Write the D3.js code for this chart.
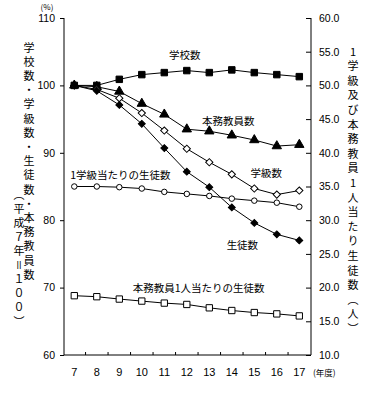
<!DOCTYPE html>
<html>
<head>
<meta charset="utf-8">
<script src="https://cdn.jsdelivr.net/npm/d3@7"></script>
<style>
  body { margin: 0; background: #fff; }
  svg text { font-family: "Noto Sans CJK JP", sans-serif; fill: #000; }
  .tick text { font-family: "Liberation Sans", Arial, sans-serif; font-size: 10.5px; }
</style>
</head>
<body>
<script>
// data (平成7年度 = 100 for the left axis)
const years = [7, 8, 9, 10, 11, 12, 13, 14, 15, 16, 17];
const schools = [100, 100, 100.9, 101.6, 101.9, 102.2, 101.9, 102.3, 101.9, 101.6, 101.3];
const teachers = [100, 99.8, 99.1, 97.3, 95.7, 93.5, 93.2, 92.6, 91.9, 91.0, 91.2];
const classes = [100, 99.4, 98.1, 95.9, 93.3, 90.6, 88.6, 86.8, 84.7, 83.8, 84.4];
const students = [100, 99.2, 97.1, 94.3, 90.7, 87.2, 84.9, 81.9, 79.6, 77.9, 77.0];
// right axis (人)
const perClass = [35.0, 35.0, 34.9, 34.7, 34.2, 33.9, 33.6, 33.2, 32.9, 32.6, 32.0];
const perTeacher = [18.8, 18.65, 18.3, 18.0, 17.7, 17.5, 17.0, 16.6, 16.3, 16.1, 15.8];

const leftTicks = [60, 70, 80, 90, 100, 110];
const rightTicks = [10, 15, 20, 25, 30, 35, 40, 45, 50, 55, 60];

const width = 376;
const height = 398;

const svg = d3.select('body')
  .append('svg')
  .attr('width', width)
  .attr('height', height);

const xLin = d3.scaleLinear().domain([7, 17]).range([74.3, 299.3]);
const yL = d3.scaleLinear().domain([60, 110]).range([355, 18]);
const yR = d3.scaleLinear().domain([10, 60]).range([355, 18]);
const axisLeftX = 64;
const axisRightX = 311;

// axes
svg.append('g')
  .attr('transform', `translate(${axisLeftX},0)`)
  .call(d3.axisLeft(yL).tickValues(leftTicks).tickSize(4).tickPadding(5).tickFormat(d3.format('d')))
  .call(g => g.select('.domain').attr('d', `M0,${yL(110)}V${yL(60)}`));

svg.append('g')
  .attr('transform', `translate(${axisRightX},0)`)
  .call(d3.axisRight(yR).tickValues(rightTicks).tickSize(-5).tickPadding(8).tickFormat(d3.format('.1f')))
  .call(g => g.select('.domain').attr('d', `M0,${yR(60)}V${yR(10)}`));

const xAxis = svg.append('g')
  .attr('transform', `translate(0,${yL(60)})`);
xAxis.append('path')
  .attr('d', `M${axisLeftX},0H${axisRightX}`)
  .attr('stroke', '#000');
xAxis.selectAll('line.xt')
  .data(years.slice(0, -1))
  .enter()
  .append('line')
  .attr('x1', d => xLin(d + 0.5))
  .attr('x2', d => xLin(d + 0.5))
  .attr('y1', 0)
  .attr('y2', -3)
  .attr('stroke', '#000');
xAxis.selectAll('text.xl')
  .data(years)
  .enter()
  .append('text')
  .attr('class', 'xl')
  .attr('x', d => xLin(d))
  .attr('y', 21)
  .attr('text-anchor', 'middle')
  .style('font-family', '"Liberation Sans", Arial, sans-serif')
  .style('font-size', '11px')
  .text(d => d);

svg.selectAll('.tick line').attr('stroke', '#000');
svg.selectAll('.tick text').attr('fill', '#000');

// unit labels
svg.append('text').attr('x', 47).attr('y', 10).attr('text-anchor', 'middle')
  .style('font-size', '8px').text('(%)');
svg.append('text').attr('x', 313).attr('y', 376)
  .style('font-size', '8.5px').text('(年度)');

// vertical titles
function vtitle(x, y, str, spacing) {
  svg.append('text')
    .attr('x', x)
    .attr('y', y)
    .style('writing-mode', 'vertical-rl')
    .style('text-orientation', 'upright')
    .style('font-size', '11px')
    .style('letter-spacing', spacing + 'px')
    .text(str);
}
vtitle(29, 42, '学校数・学級数・生徒数・本務教員数', 3.2);
vtitle(19, 189, '（平成７年＝１００）', 3.1);
vtitle(353, 46, '1学級及び本務教員1人当たり生徒数（人）', 3.6);

// series
const series = [
  { name: 'schools', values: schools, y: yL, symbol: d3.symbolSquare, size: 42, fill: '#000', rot: 0 },
  { name: 'teachers', values: teachers, y: yL, symbol: d3.symbolTriangle, size: 38, fill: '#000', rot: 0 },
  { name: 'classes', values: classes, y: yL, symbol: d3.symbolSquare, size: 26, fill: '#fff', rot: 45 },
  { name: 'students', values: students, y: yL, symbol: d3.symbolSquare, size: 24, fill: '#000', rot: 45 },
  { name: 'perClass', values: perClass, y: yR, symbol: d3.symbolCircle, size: 24, fill: '#fff', rot: 0 },
  { name: 'perTeacher', values: perTeacher, y: yR, symbol: d3.symbolSquare, size: 40, fill: '#fff', rot: 0 }
];

series.forEach(s => {
  const line = d3.line()
    .x((d, i) => xLin(years[i]))
    .y(d => s.y(d));
  svg.append('path')
    .datum(s.values)
    .attr('d', line)
    .attr('fill', 'none')
    .attr('stroke', '#000')
    .attr('stroke-width', 1);
});

series.forEach(s => {
  svg.append('g')
    .selectAll('path')
    .data(s.values)
    .enter()
    .append('path')
    .attr('d', d3.symbol().type(s.symbol).size(s.size))
    .attr('transform', (d, i) => `translate(${xLin(years[i])},${s.y(d)}) rotate(${s.rot})`)
    .attr('fill', s.fill)
    .attr('stroke', '#000')
    .attr('stroke-width', 1);
});

// series labels
const labels = [
  { text: '学校数', x: 11.91, v: 104.4, y: yL, anchor: 'middle' },
  { text: '本務教員数', x: 13.84, v: 94.6, y: yL, anchor: 'middle' },
  { text: '学級数', x: 15.53, v: 86.9, y: yL, anchor: 'middle' },
  { text: '1学級当たりの生徒数', x: 7, v: 36.7, y: yR, anchor: 'start' },
  { text: '生徒数', x: 14.47, v: 76.3, y: yL, anchor: 'middle' },
  { text: '本務教員1人当たりの生徒数', x: 12.53, v: 19.9, y: yR, anchor: 'middle' }
];
svg.append('g')
  .selectAll('text')
  .data(labels)
  .enter()
  .append('text')
  .attr('x', d => d.anchor === 'start' ? xLin(d.x) - 4 : xLin(d.x))
  .attr('y', d => d.y(d.v))
  .attr('dy', '0.35em')
  .attr('text-anchor', d => d.anchor)
  .style('font-size', '10.5px')
  .text(d => d.text);
</script>
</body>
</html>
